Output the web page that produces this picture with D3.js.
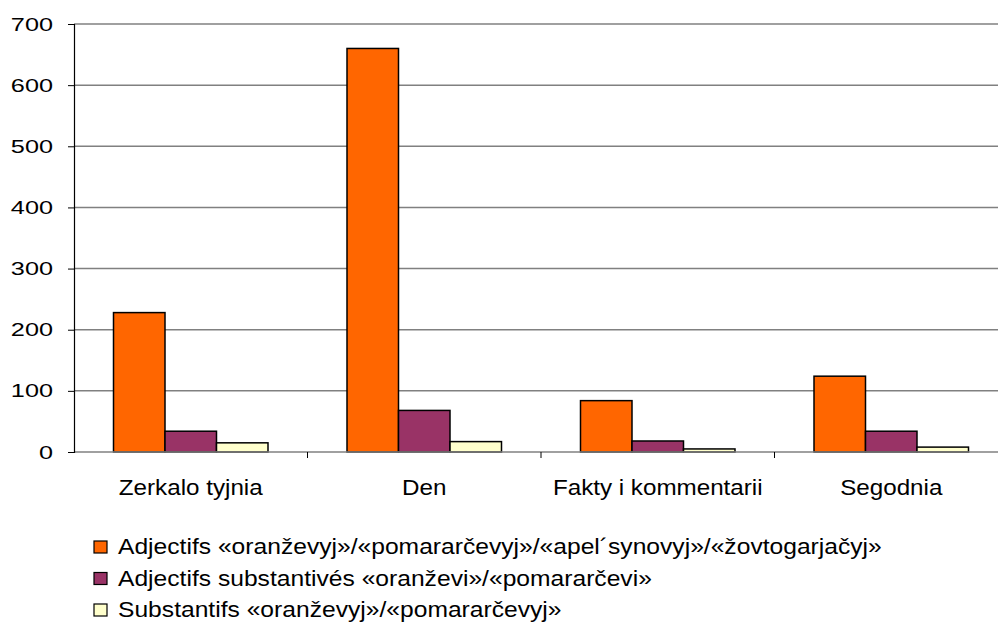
<!DOCTYPE html>
<html>
<head>
<meta charset="utf-8">
<script src="https://cdn.jsdelivr.net/npm/d3@7"></script>
<style>
  body { margin: 0; background: #fff; }
  svg { display: block; font-family: "Liberation Sans", Arial, sans-serif; }
</style>
</head>
<body>
<div id="chart"></div>
<script>
var categories = ["Zerkalo tyjnia", "Den", "Fakty i kommentarii", "Segodnia"];
var seriesNames = [
  "Adjectifs «oranževyj»/«pomararčevyj»/«apel´synovyj»/«žovtogarjačyj»",
  "Adjectifs substantivés «oranževi»/«pomararčevi»",
  "Substantifs «oranževyj»/«pomararčevyj»"
];
var adjectifs = [228, 660, 84, 124];
var substantives = [34, 68, 18, 34];
var substantifs = [15, 17, 5, 8];
var yTicks = [0, 100, 200, 300, 400, 500, 600, 700];
var colors = ["#ff6600", "#993366", "#ffffcc"];

var series = [adjectifs, substantives, substantifs];

var width = 998, height = 624;
var margin = { left: 74, top: 24, bottom: 452 };
var plotRight = 74 + 4 * 233.5;

var svg = d3.select("#chart").append("svg")
  .attr("width", width).attr("height", height);

var x = d3.scaleBand().domain(categories).range([margin.left, plotRight]).paddingInner(0).paddingOuter(0);
var xInner = d3.scaleBand().domain(d3.range(series.length)).range([0, x.bandwidth()]).paddingOuter(0.767).paddingInner(0);
var y = d3.scaleLinear().domain([0, 700]).range([margin.bottom, margin.top]);

// gridlines
svg.append("g").selectAll("line").data(yTicks.filter(function (d) { return d > 0; }))
  .join("line")
  .attr("x1", margin.left).attr("x2", plotRight)
  .attr("y1", function (d) { return y(d); }).attr("y2", function (d) { return y(d); })
  .attr("stroke", "#808080").attr("stroke-width", 1.5);

// bars
var groups = svg.append("g").selectAll("g").data(categories).join("g")
  .attr("transform", function (d) { return "translate(" + x(d) + ",0)"; });

groups.selectAll("rect").data(function (d, i) {
    return series.map(function (s, k) { return { k: k, v: s[i] }; });
  })
  .join("rect")
  .attr("x", function (d) { return xInner(d.k); })
  .attr("width", xInner.bandwidth())
  .attr("y", function (d) { return y(d.v); })
  .attr("height", function (d) { return y(0) - y(d.v); })
  .attr("fill", function (d) { return colors[d.k]; })
  .attr("stroke", "#000").attr("stroke-width", 1.5);

// x axis
svg.append("line")
  .attr("x1", margin.left).attr("x2", plotRight)
  .attr("y1", y(0)).attr("y2", y(0))
  .attr("stroke", "#808080").attr("stroke-width", 1.5);
svg.append("g").selectAll("line").data(categories.slice(1)).join("line")
  .attr("x1", function (d) { return x(d); }).attr("x2", function (d) { return x(d); })
  .attr("y1", y(0)).attr("y2", y(0) + 6)
  .attr("stroke", "#000").attr("stroke-width", 1);
svg.append("g").selectAll("text").data(categories).join("text")
  .attr("transform", function (d) {
    return "translate(" + (x(d) + x.bandwidth() / 2) + ",495) scale(1.1,1)";
  })
  .attr("text-anchor", "middle")
  .attr("font-size", 22)
  .attr("fill", "#000")
  .text(function (d) { return d; });

// y axis
var yAxis = svg.append("g")
  .attr("transform", "translate(" + margin.left + ",0)")
  .call(d3.axisLeft(y).tickValues(yTicks).tickSize(6).tickPadding(15).tickFormat(d3.format("d")));
yAxis.select(".domain").attr("stroke", "#000").attr("stroke-width", 1.2);
yAxis.selectAll(".tick line").attr("stroke", "#000");
yAxis.selectAll(".tick text")
  .attr("font-size", 19)
  .attr("font-family", "'Liberation Sans', Arial, sans-serif")
  .attr("fill", "#000")
  .attr("transform", "scale(1.33,1)")
  .attr("x", -21 / 1.33);

// legend
var legend = svg.append("g").selectAll("g").data(seriesNames).join("g")
  .attr("transform", function (d, i) { return "translate(94," + (554 + i * 31.5) + ")"; });
legend.append("rect")
  .attr("x", 0).attr("y", -13).attr("width", 13).attr("height", 12)
  .attr("fill", function (d, i) { return colors[i]; })
  .attr("stroke", "#000").attr("stroke-width", 1.2);
legend.append("text")
  .attr("transform", "translate(24,0) scale(1.12,1)")
  .attr("font-size", 22)
  .attr("fill", "#000")
  .text(function (d) { return d; });
</script>
</body>
</html>
